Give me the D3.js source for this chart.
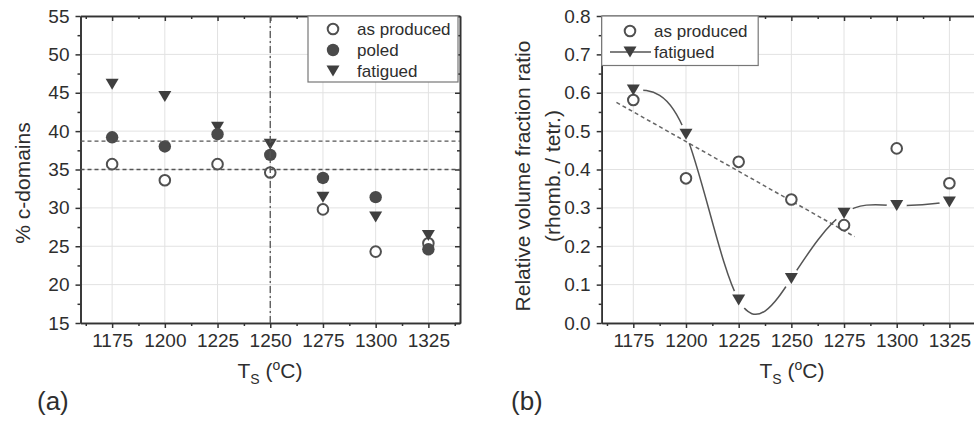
<!DOCTYPE html>
<html>
<head>
<meta charset="utf-8">
<script src="https://cdnjs.cloudflare.com/ajax/libs/d3/7.8.5/d3.min.js"></script>
<style>
body { margin: 0; background: #fff; }
text { font-family: "Liberation Sans", Arial, sans-serif; }
</style>
</head>
<body>
<script>
// sintering temperatures (x categories, both panels)
var temps = [1175, 1200, 1225, 1250, 1275, 1300, 1325];

// panel (a): % c-domains
var cAsProduced = [35.7, 33.6, 35.7, 34.6, 29.8, 24.3, 25.4];
var cPoled      = [39.2, 38.0, 39.6, 36.9, 33.9, 31.4, 24.6];
var cFatigued   = [46.1, 44.5, 40.5, 38.3, 31.4, 28.8, 26.4];
var cRefLevels  = [38.7, 35.0];
var cRefTemp    = 1250;

// panel (b): relative volume fraction ratio
var rAsProduced = [0.581, 0.377, 0.420, 0.322, 0.255, 0.455, 0.364];
var rFatigued   = [0.607, 0.492, 0.060, 0.116, 0.286, 0.306, 0.315];
var fitT = [1167, 1280];
var fitR = [0.575, 0.225];

// tick labels
var xTicks = [1175, 1200, 1225, 1250, 1275, 1300, 1325];
var xMinor = [1162.5, 1187.5, 1212.5, 1237.5, 1262.5, 1287.5, 1312.5, 1337.5];
var cTicks = [15, 20, 25, 30, 35, 40, 45, 50, 55];
var cMinor = [17.5, 22.5, 27.5, 32.5, 37.5, 42.5, 47.5, 52.5];
var rTicks = [0, 0.1, 0.2, 0.3, 0.4, 0.5, 0.6, 0.7, 0.8];
var rMinor = [0.05, 0.15, 0.25, 0.35, 0.45, 0.55, 0.65, 0.75];

var W = 974, H = 424;
var yTop = 16, yBot = 323;

var svg = d3.select('body').append('svg')
    .attr('width', W)
    .attr('height', H);

var triPath = 'M-6.5,-5.5L6.5,-5.5L0,5.5Z';

function xy(a, b) {
  return a.map(function (d, i) { return {t: d, v: b[i]}; });
}

function frame(x, y, yTicks, yMinor, fmt) {
  var x0 = x.range()[0], x1 = x.range()[1];
  var g = svg.append('g');

  // grid
  g.selectAll('.gx').data(xTicks).enter().append('line')
    .attr('x1', function (d) { return x(d); })
    .attr('x2', function (d) { return x(d); })
    .attr('y1', yTop).attr('y2', yBot)
    .attr('stroke', '#e2e2e2').attr('stroke-width', 1);
  g.selectAll('.gy').data(yTicks).enter().append('line')
    .attr('y1', function (d) { return y(d); })
    .attr('y2', function (d) { return y(d); })
    .attr('x1', x0).attr('x2', x1)
    .attr('stroke', '#e2e2e2').attr('stroke-width', 1);

  function ax(gen, tr, vals, size, f) {
    var a = svg.append('g')
      .attr('transform', tr)
      .style('color', '#333')
      .call(gen.tickValues(vals).tickSize(size).tickSizeOuter(0)
        .tickPadding(f ? 6 : 3)
        .tickFormat(f || ''));
    a.select('.domain').attr('stroke-width', 1.6);
    a.selectAll('.tick line').attr('stroke-width', 1.5);
    a.selectAll('text')
      .attr('font-family', '"Liberation Sans", Arial, sans-serif')
      .attr('font-size', 19)
      .attr('fill', '#2e2e2e');
    return a;
  }

  ax(d3.axisBottom(x), 'translate(0,' + yBot + ')', xTicks, 5, d3.format('d'));
  ax(d3.axisBottom(x), 'translate(0,' + yBot + ')', xMinor, 3, null);
  ax(d3.axisTop(x), 'translate(0,' + yTop + ')', xTicks, -5, null);
  ax(d3.axisTop(x), 'translate(0,' + yTop + ')', xMinor, -3, null);
  ax(d3.axisLeft(y), 'translate(' + x0 + ',0)', yTicks, 5, fmt);
  ax(d3.axisLeft(y), 'translate(' + x0 + ',0)', yMinor, 3, null);
  ax(d3.axisRight(y), 'translate(' + x1 + ',0)', yTicks, -5, null);
  ax(d3.axisRight(y), 'translate(' + x1 + ',0)', yMinor, -3, null);
}

function xTitle(cx) {
  var t = svg.append('text')
    .attr('x', cx).attr('y', 378)
    .attr('text-anchor', 'middle')
    .attr('font-size', 21)
    .attr('fill', '#2e2e2e');
  t.append('tspan').text('T');
  t.append('tspan').attr('font-size', 14).attr('dy', 6).text('S');
  t.append('tspan').attr('dy', -6).text(' (');
  t.append('tspan').attr('font-size', 14).attr('dy', -8).text('o');
  t.append('tspan').attr('dy', 8).text('C)');
}

///////////////////// panel (a)

var xA = d3.scaleLinear().domain([1160, 1340]).range([80.5, 460]);
var yA = d3.scaleLinear().domain([15, 55]).range([yBot, yTop]);

frame(xA, yA, cTicks, cMinor, d3.format('d'));

svg.append('g').selectAll('circle')
  .data(xy(temps, cAsProduced)).enter().append('circle')
  .attr('cx', function (d) { return xA(d.t); })
  .attr('cy', function (d) { return yA(d.v); })
  .attr('r', 5.3)
  .attr('fill', '#fff')
  .attr('stroke', '#505050')
  .attr('stroke-width', 2);

svg.append('g').selectAll('path')
  .data(xy(temps, cFatigued)).enter().append('path')
  .attr('d', triPath)
  .attr('transform', function (d) {
    return 'translate(' + xA(d.t) + ',' + yA(d.v) + ')';
  })
  .attr('fill', '#3f3f3f');

svg.append('g').selectAll('circle')
  .data(xy(temps, cPoled)).enter().append('circle')
  .attr('cx', function (d) { return xA(d.t); })
  .attr('cy', function (d) { return yA(d.v); })
  .attr('r', 6.2)
  .attr('fill', '#4a4a4a');

// reference lines
svg.selectAll('.href').data(cRefLevels).enter().append('line')
  .attr('x1', xA.range()[0]).attr('x2', xA.range()[1])
  .attr('y1', function (d) { return yA(d); })
  .attr('y2', function (d) { return yA(d); })
  .attr('stroke', '#555')
  .attr('stroke-width', 1.4)
  .attr('stroke-dasharray', '4,3');

svg.append('line')
  .attr('x1', xA(cRefTemp)).attr('x2', xA(cRefTemp))
  .attr('y1', yTop).attr('y2', yBot)
  .attr('stroke', '#555')
  .attr('stroke-width', 1.3)
  .attr('stroke-dasharray', '7,3,2,3');

// legend (a)
var legA = svg.append('g');
legA.append('rect')
  .attr('x', 308).attr('y', yTop).attr('width', 150).attr('height', 66)
  .attr('fill', '#fff').attr('stroke', '#777').attr('stroke-width', 1.2);
legA.append('circle').attr('cx', 333).attr('cy', 29).attr('r', 5.3)
  .attr('fill', '#fff').attr('stroke', '#505050').attr('stroke-width', 2);
legA.append('circle').attr('cx', 333).attr('cy', 50).attr('r', 6.2)
  .attr('fill', '#4a4a4a');
legA.append('path').attr('d', triPath)
  .attr('transform', 'translate(333,71)').attr('fill', '#3f3f3f');
legA.selectAll('text').data(['as produced', 'poled', 'fatigued']).enter()
  .append('text')
  .attr('x', 357)
  .attr('y', function (d, i) { return 35 + i * 21; })
  .attr('font-size', 17)
  .attr('fill', '#2e2e2e')
  .text(function (d) { return d; });

svg.append('text')
  .attr('transform', 'translate(22,183) rotate(-90)')
  .attr('text-anchor', 'middle')
  .attr('dominant-baseline', 'central')
  .attr('font-size', 21)
  .attr('fill', '#2e2e2e')
  .text('% c-domains');

xTitle(270);

svg.append('text')
  .attr('x', 37).attr('y', 410)
  .attr('font-size', 26)
  .attr('fill', '#2e2e2e')
  .text('(a)');

///////////////////// panel (b)

var xB = d3.scaleLinear().domain([1160, 1340]).range([601.7, 981]);
var yB = d3.scaleLinear().domain([0, 0.8]).range([yBot, yTop]);

frame(xB, yB, rTicks, rMinor, d3.format('.1f'));

// linear fit of as produced
svg.append('path')
  .datum(xy(fitT, fitR))
  .attr('d', d3.line()
    .x(function (d) { return xB(d.t); })
    .y(function (d) { return yB(d.v); }))
  .attr('fill', 'none')
  .attr('stroke', '#666')
  .attr('stroke-width', 1.5)
  .attr('stroke-dasharray', '4,3');

// spline through fatigued, with gaps around the symbols
var fat = xy(temps, rFatigued);
var mask = svg.append('defs').append('mask').attr('id', 'gapmask');
mask.append('rect').attr('width', W).attr('height', H).attr('fill', '#fff');
mask.selectAll('circle').data(fat).enter().append('circle')
  .attr('cx', function (d) { return xB(d.t); })
  .attr('cy', function (d) { return yB(d.v); })
  .attr('r', 10)
  .attr('fill', '#000');

svg.append('path')
  .datum(fat)
  .attr('d', d3.line()
    .curve(d3.curveNatural)
    .x(function (d) { return xB(d.t); })
    .y(function (d) { return yB(d.v); }))
  .attr('mask', 'url(#gapmask)')
  .attr('fill', 'none')
  .attr('stroke', '#555')
  .attr('stroke-width', 1.5);

svg.append('g').selectAll('circle')
  .data(xy(temps, rAsProduced)).enter().append('circle')
  .attr('cx', function (d) { return xB(d.t); })
  .attr('cy', function (d) { return yB(d.v); })
  .attr('r', 5.3)
  .attr('fill', '#fff')
  .attr('stroke', '#505050')
  .attr('stroke-width', 2);

svg.append('g').selectAll('path')
  .data(fat).enter().append('path')
  .attr('d', triPath)
  .attr('transform', function (d) {
    return 'translate(' + xB(d.t) + ',' + yB(d.v) + ')';
  })
  .attr('fill', '#3f3f3f');

// legend (b)
var legB = svg.append('g');
legB.append('rect')
  .attr('x', 601.7).attr('y', yTop).attr('width', 156.5).attr('height', 49.5)
  .attr('fill', '#fff').attr('stroke', '#777').attr('stroke-width', 1.2);
legB.append('circle').attr('cx', 630).attr('cy', 31).attr('r', 5.3)
  .attr('fill', '#fff').attr('stroke', '#505050').attr('stroke-width', 2);
legB.append('line').attr('x1', 610).attr('x2', 651).attr('y1', 52).attr('y2', 52)
  .attr('stroke', '#555').attr('stroke-width', 1.5);
legB.append('path').attr('d', triPath)
  .attr('transform', 'translate(630,52)').attr('fill', '#3f3f3f');
legB.selectAll('text').data(['as produced', 'fatigued']).enter()
  .append('text')
  .attr('x', 654)
  .attr('y', function (d, i) { return 37 + i * 21; })
  .attr('font-size', 17)
  .attr('fill', '#2e2e2e')
  .text(function (d) { return d; });

svg.append('text')
  .attr('transform', 'translate(522,176) rotate(-90)')
  .attr('text-anchor', 'middle')
  .attr('dominant-baseline', 'central')
  .attr('font-size', 21)
  .attr('fill', '#2e2e2e')
  .text('Relative volume fraction ratio');

svg.append('text')
  .attr('transform', 'translate(552,176) rotate(-90)')
  .attr('text-anchor', 'middle')
  .attr('dominant-baseline', 'central')
  .attr('font-size', 21)
  .attr('fill', '#2e2e2e')
  .text('(rhomb. / tetr.)');

xTitle(792);

svg.append('text')
  .attr('x', 511).attr('y', 410)
  .attr('font-size', 26)
  .attr('fill', '#2e2e2e')
  .text('(b)');
</script>
</body>
</html>
